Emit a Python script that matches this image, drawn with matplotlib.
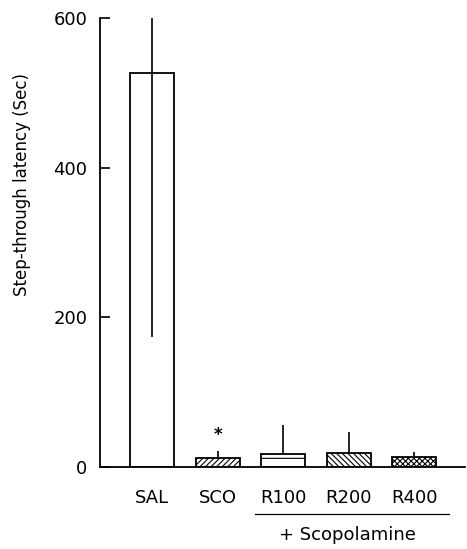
import numpy as np
import matplotlib
matplotlib.use("Agg")
import matplotlib.pyplot as plt
import matplotlib.transforms as mtransforms

# =============================================================================
# Data
# =============================================================================

groups    = ["SAL", "SCO", "R100", "R200", "R400"]
latency   = [527, 12, 17, 18, 13]
err_up    = [354, 9, 39, 28, 6]     # SAL upper arm runs off the 600 limit
err_down  = [354, 0, 0, 0, 0]
hatches   = ["", "//////", "-", "\\\\\\\\\\\\", "xxxxxx"]
yticks    = [0, 200, 400, 600]

# =============================================================================
# Plot
# =============================================================================

plt.rcParams['font.family'] = ['DejaVu Sans']
plt.rcParams['hatch.linewidth'] = 0.8

fig = plt.figure(figsize=(4.67, 5.49), dpi=100)
ax = fig.add_axes([0.214, 0.150, 0.782, 0.817])

x = np.arange(len(groups))
for i in range(len(groups)):
    ax.bar(x[i], latency[i], width=0.67, color="white", edgecolor="black",
           linewidth=1.3, hatch=hatches[i], zorder=2)

ax.errorbar(x, latency, yerr=[err_down, err_up], fmt="none", ecolor="black",
            elinewidth=1.2, capsize=0, zorder=3)

# significance mark
ax.text(x[1], latency[1] + err_up[1] + 22, "*", ha="center", va="center",
        fontsize=12, fontweight="bold")

ax.set_xlim(-0.80, 4.78)
ax.set_ylim(0, 600)
ax.set_yticks(yticks)
ax.set_xticks(x)
ax.set_xticklabels(groups, fontsize=13)
ax.tick_params(axis="x", length=0, pad=16)
ax.tick_params(axis="y", direction="in", length=7, width=1.2, pad=9, labelsize=13)

for s in ["top", "right"]:
    ax.spines[s].set_visible(False)
for s in ["left", "bottom"]:
    ax.spines[s].set_linewidth(1.3)

ax.set_ylabel("Step-through latency (Sec)", fontsize=12)
ax.yaxis.set_label_coords(-0.19, 0.63)

# "+ Scopolamine" bracket under R100..R400
trans = mtransforms.blended_transform_factory(ax.transData, ax.transAxes)
ax.plot([1.57, 4.54], [-0.106, -0.106], color="black", linewidth=0.9,
        transform=trans, clip_on=False)
ax.text(2.98, -0.153, "+ Scopolamine", ha="center", va="center",
        fontsize=13, transform=trans)

fig.savefig("out.png", dpi=100)
